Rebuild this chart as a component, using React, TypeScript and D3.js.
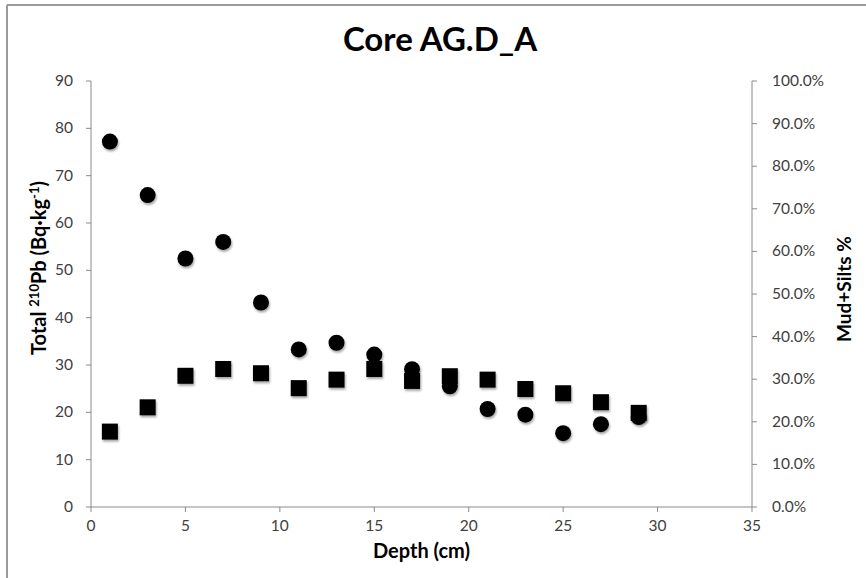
import React from "react";
import * as d3 from "d3";

const depths = [1, 3, 5, 7, 9, 11, 13, 15, 17, 19, 21, 23, 25, 27, 29];
const pb210 = [77.2, 65.9, 52.5, 56.0, 43.2, 33.3, 34.7, 32.2, 29.1, 25.5, 20.7, 19.5, 15.6, 17.5, 19.0];
const mudSilts = [17.7, 23.4, 30.8, 32.4, 31.4, 27.9, 29.9, 32.4, 29.6, 30.7, 29.9, 27.7, 26.7, 24.6, 22.1];
const xTicks = [0, 5, 10, 15, 20, 25, 30, 35];
const leftTicks = [0, 10, 20, 30, 40, 50, 60, 70, 80, 90];
const rightTicks = [0, 0.1, 0.2, 0.3, 0.4, 0.5, 0.6, 0.7, 0.8, 0.9, 1.0];

const W = 866;
const H = 578;
const FONT = "Lato, 'Open Sans', sans-serif";
const AXIS = "#8a8a8a";
const TICKTXT = "#404040";

export default function App() {
  const x = d3.scaleLinear().domain([0, 35]).range([91, 752]);
  const yL = d3.scaleLinear().domain([0, 90]).range([507, 81]);
  const yR = d3.scaleLinear().domain([0, 1]).range([507, 81]);
  const pct = d3.format(".1%");
  const sq = 16;

  return (
    <svg
      width={W}
      height={H}
      style={{ position: "absolute", left: 0, top: 0, background: "#fff" }}
      fontFamily={FONT}
    >
      <defs>
        <filter id="shadow" x="-50%" y="-50%" width="200%" height="200%">
          <feDropShadow dx="1" dy="2" stdDeviation="1.2" floodColor="#000" floodOpacity="0.35" />
        </filter>
      </defs>
      <rect x={0} y={0} width={W} height={H} fill="#fff" />
      {/* chart frame */}
      <line x1={7} y1={5} x2={7} y2={H} stroke="#9a9a9a" strokeWidth={2} />
      <line x1={7} y1={5} x2={W} y2={5} stroke="#9a9a9a" strokeWidth={2} />

      {/* title */}
      <text x={440} y={51} textAnchor="middle" fontSize={33} fontWeight="bold" fill="#000">
        Core AG.D_A
      </text>

      {/* axes lines */}
      <line x1={x(0)} y1={yL(0)} x2={x(35)} y2={yL(0)} stroke={AXIS} strokeWidth={1} />
      <line x1={x(0)} y1={yL(0)} x2={x(0)} y2={yL(90)} stroke={AXIS} strokeWidth={1} />
      <line x1={x(35)} y1={yR(0)} x2={x(35)} y2={yR(1)} stroke={AXIS} strokeWidth={1} />

      {/* x ticks */}
      {xTicks.map((t) => (
        <g key={"x" + t}>
          <line x1={x(t)} y1={yL(0)} x2={x(t)} y2={yL(0) + 5} stroke={AXIS} />
          <text x={x(t)} y={yL(0) + 24} textAnchor="middle" fontSize={15.5} fill={TICKTXT}>
            {t}
          </text>
        </g>
      ))}
      {/* left ticks */}
      {leftTicks.map((t) => (
        <g key={"l" + t}>
          <line x1={x(0) - 5} y1={yL(t)} x2={x(0)} y2={yL(t)} stroke={AXIS} />
          <text x={73} y={yL(t) + 5} textAnchor="end" fontSize={15.5} fill={TICKTXT}>
            {t}
          </text>
        </g>
      ))}
      {/* right ticks */}
      {rightTicks.map((t) => (
        <g key={"r" + t}>
          <line x1={x(35)} y1={yR(t)} x2={x(35) + 5} y2={yR(t)} stroke={AXIS} />
          <text x={772} y={yR(t) + 5} textAnchor="start" fontSize={15.5} fill={TICKTXT}>
            {pct(t)}
          </text>
        </g>
      ))}

      {/* axis titles */}
      <text x={421.5} y={558} textAnchor="middle" fontSize={20} fontWeight="bold" fill="#000">
        Depth (cm)
      </text>
      <text
        transform={`translate(46,268) rotate(-90)`}
        textAnchor="middle"
        fontSize={20}
        fontWeight="bold"
        fill="#000"
      >
        Total <tspan fontSize={13} dy={-7}>210</tspan>
        <tspan dy={7}>Pb (Bq·kg</tspan>
        <tspan fontSize={13} dy={-7}>-1</tspan>
        <tspan dy={7}>)</tspan>
      </text>
      <text
        transform={`translate(851,289) rotate(-90)`}
        textAnchor="middle"
        fontSize={19}
        fontWeight="bold"
        fill="#000"
      >
        Mud+Silts %
      </text>

      {/* series: total 210Pb (circles, left axis) */}
      <g filter="url(#shadow)">
        {depths.map((d, i) => (
          <circle key={"c" + i} cx={x(d)} cy={yL(pb210[i])} r={8} fill="#000" />
        ))}
      </g>
      {/* series: mud + silts (squares, right axis) */}
      <g filter="url(#shadow)">
        {depths.map((d, i) => (
          <rect
            key={"s" + i}
            x={x(d) - sq / 2}
            y={yR(mudSilts[i] / 100) - sq / 2}
            width={sq}
            height={sq}
            fill="#000"
          />
        ))}
      </g>
    </svg>
  );
}
